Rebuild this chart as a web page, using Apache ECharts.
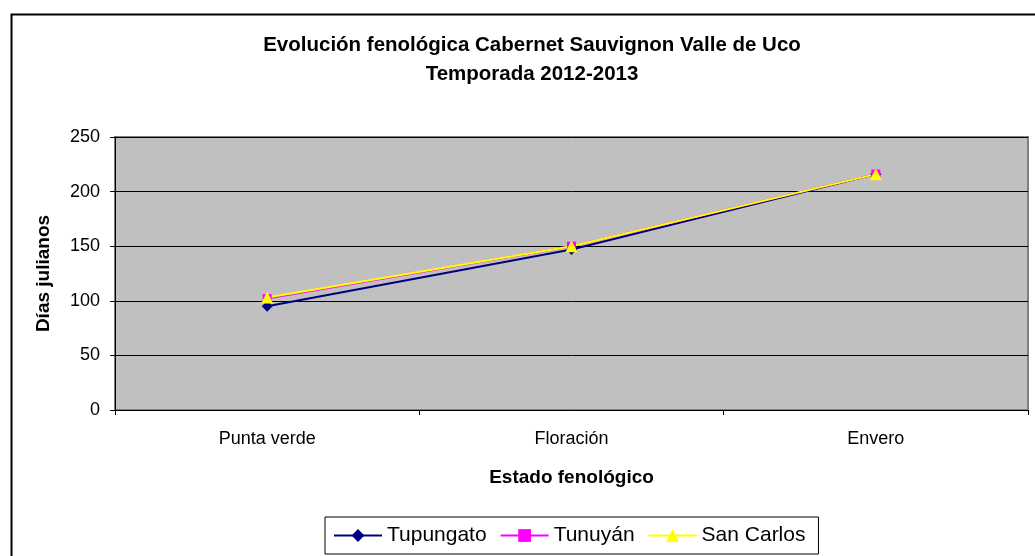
<!DOCTYPE html>
<html>
<head>
<meta charset="utf-8">
<script src="https://cdn.jsdelivr.net/npm/echarts@6/dist/echarts.min.js"></script>
<style>
html, body { margin: 0; padding: 0; background: #fff; }
#chart { width: 1035px; height: 556px; }
</style>
</head>
<body>
<div id="chart"></div>
<script>
// data
var estados = ['Punta verde', 'Floración', 'Envero'];
var tupungato = [95, 147, 216];
var tunuyan = [102, 150, 216];
var sanCarlos = [103, 150, 216];
var yTicks = [0, 50, 100, 150, 200, 250];

var font = 'Liberation Sans, Arial, sans-serif';
var myc = echarts.init(document.getElementById('chart'));

function serie(name, data, color, symbol, size) {
    return {
        name: name,
        type: 'line',
        data: data,
        symbol: symbol,
        symbolSize: size,
        showAllSymbol: true,
        lineStyle: { color: color, width: 2 },
        itemStyle: { color: color, borderWidth: 0 },
        emphasis: { disabled: true },
        animation: false
    };
}

var options = {
    backgroundColor: '#fff',
    textStyle: { fontFamily: font },
    title: {
        text: 'Evolución fenológica Cabernet Sauvignon Valle de Uco\nTemporada 2012-2013',
        left: 527,
        top: 26,
        textAlign: 'center',
        textStyle: { fontSize: 20.5, fontWeight: 'bold', color: '#000', lineHeight: 29, fontFamily: font }
    },
    graphic: [{
        type: 'rect',
        left: 9, top: 12,
        shape: { width: 1040, height: 560 },
        style: { fill: 'none', stroke: '#000', lineWidth: 2 },
        z: 100
    }],
    legend: {
        left: 325,
        top: 517,
        padding: [8, 13, 8, 8],
        itemWidth: 48,
        itemHeight: 16,
        itemGap: 13,
        borderColor: '#000',
        borderWidth: 1,
        textStyle: { fontSize: 21, color: '#000', fontFamily: font },
        data: ['Tupungato', 'Tunuyán', 'San Carlos']
    },
    grid: {
        left: 115, top: 137, width: 913, height: 273,
        show: true,
        backgroundColor: '#C0C0C0',
        borderColor: '#808080',
        borderWidth: 2
    },
    xAxis: {
        type: 'category',
        data: estados,
        boundaryGap: true,
        name: 'Estado fenológico',
        nameLocation: 'middle',
        nameGap: 58,
        nameTextStyle: { fontSize: 19, fontWeight: 'bold', color: '#000' },
        axisLine: { lineStyle: { color: '#000', width: 1 } },
        axisTick: { show: true, length: 5, lineStyle: { color: '#000' } },
        axisLabel: { fontSize: 18, color: '#000', margin: 20 },
        splitLine: { show: false }
    },
    yAxis: {
        type: 'value',
        min: yTicks[0],
        max: yTicks[yTicks.length - 1],
        interval: 50,
        name: 'Días julianos',
        nameLocation: 'middle',
        nameGap: 62,
        nameRotate: 90,
        nameTextStyle: { fontSize: 19, fontWeight: 'bold', color: '#000' },
        axisLine: { show: true, lineStyle: { color: '#000', width: 1 } },
        axisTick: { show: true, length: 5, lineStyle: { color: '#000' } },
        axisLabel: { fontSize: 18, color: '#000', margin: 15 },
        splitLine: { show: true, lineStyle: { color: '#000', width: 1 } }
    },
    series: [
        serie('Tupungato', tupungato, '#000080', 'diamond', 11),
        serie('Tunuyán', tunuyan, '#FF00FF', 'rect', 9),
        serie('San Carlos', sanCarlos, '#FFFF00', 'triangle', 12)
    ]
};
myc.setOption(options);
</script>
</body>
</html>
